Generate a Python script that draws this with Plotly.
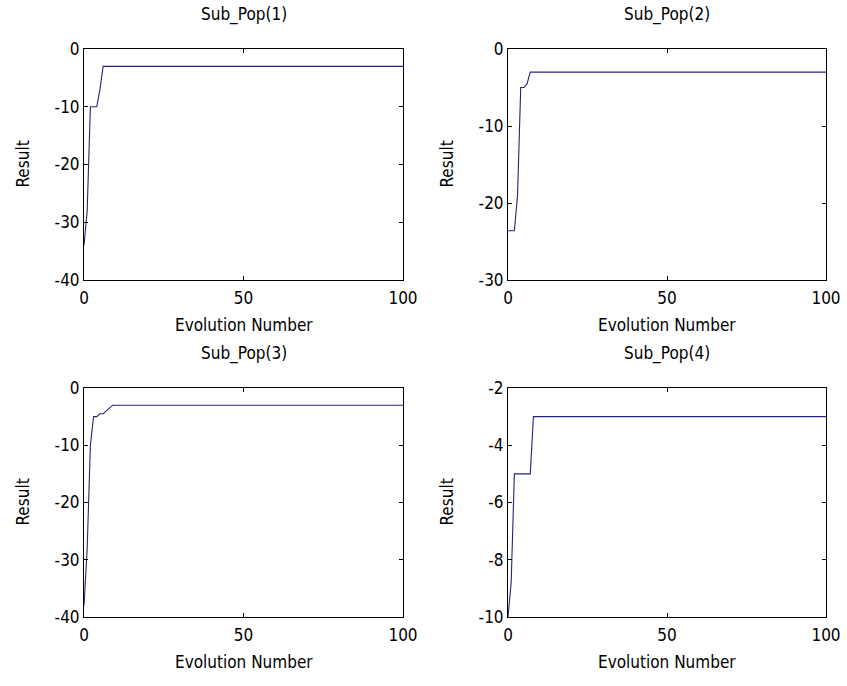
import plotly.graph_objects as go

# ---- data ----
generations = list(range(0, 101))

sub1_head = [-34, -28, -10, -10, -10, -7, -3]
sub2_head = [-23.6, -23.6, -23.6, -19, -5, -5, -4.5, -3]
sub3_head = [-38, -28, -10, -5, -5, -4.5, -4.5, -4, -3.5, -3]
sub4_head = [-10, -8.8, -5, -5, -5, -5, -5, -5, -3]
plateau = -3

sub1 = sub1_head + [plateau] * (len(generations) - len(sub1_head))
sub2 = sub2_head + [plateau] * (len(generations) - len(sub2_head))
sub3 = sub3_head + [plateau] * (len(generations) - len(sub3_head))
sub4 = sub4_head + [plateau] * (len(generations) - len(sub4_head))

titles = ["Sub_Pop(1)", "Sub_Pop(2)", "Sub_Pop(3)", "Sub_Pop(4)"]
y_ranges = [[-40, 0], [-30, 0], [-40, 0], [-10, -2]]
y_ticks = [[0, -10, -20, -30, -40], [0, -10, -20, -30], [0, -10, -20, -30, -40], [-2, -4, -6, -8, -10]]
x_ticks = [0, 50, 100]
x_label = "Evolution Number"
y_label = "Result"

# ---- layout ----
W, H = 847, 686
FONT = "DejaVu Sans Condensed, Liberation Sans Narrow, Arial, sans-serif"
FS = 17
LINE = "#24247c"

# pixel boxes in page coords (left, right, top, bottom)
boxes = [(84, 403, 49, 280), (508, 826, 49, 280), (84, 403, 388, 617), (508, 826, 388, 617)]

fig = go.Figure()
series = [sub1, sub2, sub3, sub4]
annotations = []
for i, (ys, box) in enumerate(zip(series, boxes)):
    n = i + 1
    xa = "x" if n == 1 else f"x{n}"
    ya = "y" if n == 1 else f"y{n}"
    fig.add_trace(go.Scatter(x=generations, y=ys, mode="lines", xaxis=xa, yaxis=ya,
                             line=dict(color=LINE, width=1.1), showlegend=False,
                             hoverinfo="skip"))
    l, r, t, b = box
    xdom = [l / W, r / W]
    ydom = [1 - b / H, 1 - t / H]
    axkey = "xaxis" if n == 1 else f"xaxis{n}"
    aykey = "yaxis" if n == 1 else f"yaxis{n}"
    fig.layout[axkey] = dict(domain=xdom, range=[0, 100], tickvals=x_ticks,
                             ticktext=[str(v) for v in x_ticks],
                             ticks="inside", ticklen=4, tickcolor="black",
                             showline=True, linecolor="black", linewidth=1, mirror="ticks",
                             showgrid=False, zeroline=False, anchor=ya, automargin=False,
                             ticklabelstandoff=3,
                             tickfont=dict(family=FONT, size=FS, color="black"))
    fig.layout[aykey] = dict(domain=ydom, range=y_ranges[i], tickvals=y_ticks[i],
                             ticktext=[str(v) for v in y_ticks[i]],
                             ticks="inside", ticklen=4, tickcolor="black",
                             showline=True, linecolor="black", linewidth=1, mirror="ticks",
                             showgrid=False, zeroline=False, anchor=xa, automargin=False,
                             tickfont=dict(family=FONT, size=FS, color="black"))
    cx = (l + r) / 2
    annotations.append(dict(text=titles[i], x=cx / W, y=1 - (t - 35) / H, xref="paper", yref="paper",
                            xanchor="center", yanchor="middle", showarrow=False,
                            font=dict(family=FONT, size=FS, color="black")))
    annotations.append(dict(text=x_label, x=cx / W, y=1 - (b + 45) / H, xref="paper", yref="paper",
                            xanchor="center", yanchor="middle", showarrow=False,
                            font=dict(family=FONT, size=FS, color="black")))
    annotations.append(dict(text=y_label, x=(l - 62) / W, y=1 - ((t + b) / 2) / H, xref="paper", yref="paper",
                            xanchor="center", yanchor="middle", showarrow=False, textangle=-90,
                            font=dict(family=FONT, size=FS, color="black")))

fig.update_layout(width=W, height=H, margin=dict(l=0, r=0, t=0, b=0),
                  paper_bgcolor="white", plot_bgcolor="white", annotations=annotations)

fig.write_html("out.html", config={"displayModeBar": False},
               post_script="document.body.style.margin='0px';document.body.style.overflow='hidden';")
